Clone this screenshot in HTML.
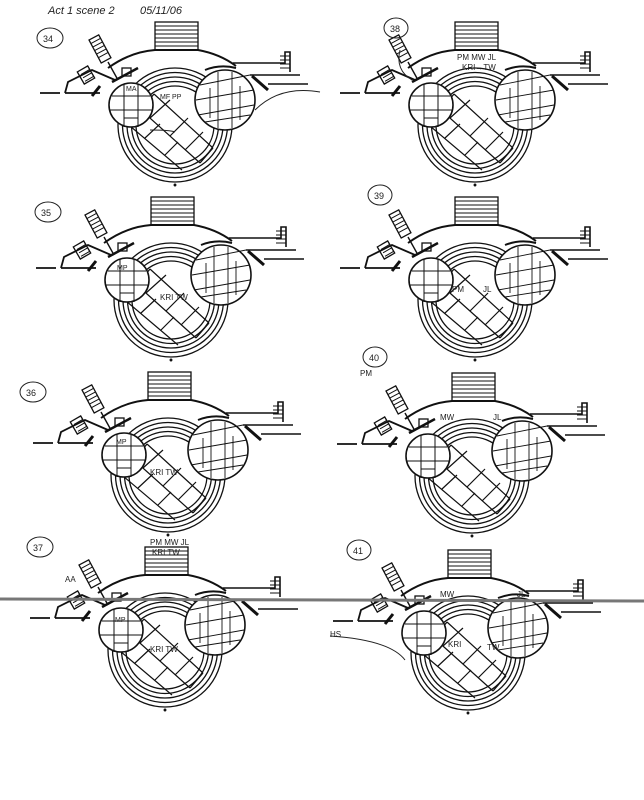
<!DOCTYPE html>
<html><head><meta charset="utf-8"><style>
html,body{margin:0;padding:0;background:#fff;width:644px;height:800px;overflow:hidden}
svg text{font-family:"Liberation Sans",sans-serif;fill:#222}
</style></head><body>
<svg width="644" height="800" viewBox="0 0 644 800" xmlns="http://www.w3.org/2000/svg">
<defs>
<g id="p" fill="none" stroke="#111" stroke-width="1.3">
  <rect x="155" y="22" width="43" height="28" fill="#fff"/>
  <path d="M155 26h43M155 30h43M155 34h43M155 38h43M155 42h43M155 46h43" stroke-width="1"/>
  <path d="M108 68 Q130 52 155 50 L198 50 Q220 54 236 66" stroke-width="2"/>
  <path d="M233 63 H285 V52 H290 V72" stroke-width="1.6"/>
  <path d="M280 56h10M280 60h10M280 64h10M280 68h10" stroke-width="1"/>
  <path d="M250 75 H300 M268 84 H308" stroke-width="1.6"/>
  <path d="M252 76 l16 14" stroke-width="3"/>
  <path d="M40 93 H60 M65 93 H100 M65 93 L68 82 L92 70 L115 80" stroke-width="1.8"/>
  <rect x="80" y="68" width="12" height="14" transform="rotate(-30 86 75)"/>
  <path d="M82 72h10M82 76h10M82 80h10" transform="rotate(-30 86 75)" stroke-width="1"/>
  <rect x="95" y="36" width="11" height="26" transform="rotate(-28 100 50)"/>
  <path d="M95 40h11M95 44h11M95 48h11M95 52h11M95 56h11" transform="rotate(-28 100 50)" stroke-width="1"/>
  <path d="M108 62 L118 80" stroke-width="1.4"/>
  <path d="M92 96 l8 -10" stroke-width="3"/>
  <rect x="122" y="68" width="9" height="8"/>
  <path d="M112 82 l26 -14" stroke-width="2.5"/>
  <circle cx="175" cy="125" r="57"/><circle cx="175" cy="125" r="52.5"/><circle cx="175" cy="125" r="48"/><circle cx="175" cy="125" r="43.5"/><circle cx="175" cy="125" r="39"/>
  <path d="M141 110 L200 163 M154 94 L213 148 M130 126 L182 170 M150 118 L170 100 M170 136 L188 118 M185 150 L203 132 M145 138 L160 124 M165 155 L178 142" fill="#fff" stroke-width="1.2"/>
  <path d="M141 110 L154 94 M200 163 L213 148"/>
  <circle cx="131" cy="105" r="22" fill="#fff" stroke-width="1.6"/>
  <path d="M124 84 V127 M138 84 V127 M112 96 H150 M110 110 H152 M124 118 H138" stroke-width="1"/>
  <circle cx="225" cy="100" r="30" fill="#fff" stroke-width="1.6"/>
  <path d="M200 85 L250 75 M196 100 L254 90 M198 115 L254 105 M205 122 L250 115 M218 72 V128 M232 72 V128 M210 88 V118 M240 86 V120" stroke-width="0.9"/>
  <path d="M205 70 Q220 64 236 68" stroke-width="2"/>
  <circle cx="175" cy="185" r="0.8" fill="#111"/>
</g>
</defs>
<text x="48" y="14" font-size="11" font-style="italic">Act 1 scene 2</text>
<text x="140" y="14" font-size="11" font-style="italic">05/11/06</text>
<use href="#p"/>
<use href="#p" transform="translate(-4,175)"/>
<use href="#p" transform="translate(-7,350)"/>
<use href="#p" transform="translate(-10,525)"/>
<use href="#p" transform="translate(300,0)"/>
<use href="#p" transform="translate(300,175)"/>
<use href="#p" transform="translate(297,351)"/>
<use href="#p" transform="translate(293,528)"/>
<line x1="0" y1="599" x2="644" y2="601" stroke="#777" stroke-width="3"/>
<g fill="none" stroke="#222" stroke-width="1">
<ellipse cx="50" cy="38" rx="13" ry="10"/><ellipse cx="48" cy="212" rx="13" ry="10"/>
<ellipse cx="33" cy="392" rx="13" ry="10"/><ellipse cx="40" cy="547" rx="13" ry="10"/>
<ellipse cx="396" cy="28" rx="12" ry="10"/><ellipse cx="380" cy="195" rx="12" ry="10"/>
<ellipse cx="375" cy="357" rx="12" ry="10"/><ellipse cx="359" cy="550" rx="12" ry="10"/>
<path d="M255 110 Q280 85 320 92"/><path d="M150 130 Q170 130 175 132"/>
<path d="M400 50 Q395 70 412 80"/><path d="M330 636 Q390 640 405 660"/>
</g>
<g font-size="9">
<text x="43" y="42">34</text><text x="41" y="216">35</text><text x="26" y="396">36</text><text x="33" y="551">37</text>
<text x="390" y="32">38</text><text x="374" y="199">39</text><text x="369" y="361">40</text><text x="353" y="554">41</text>
<text x="126" y="91" font-size="7">MA</text><text x="160" y="99" font-size="7">MF PP</text>
<text x="457" y="60" font-size="8">PM MW JL</text><text x="462" y="70" font-size="8">KRI→TW</text>
<text x="150" y="545" font-size="8">PM MW JL</text><text x="152" y="555" font-size="8">KRI TW</text>
<text x="440" y="597" font-size="8">MW</text><text x="517" y="597" font-size="8">JL</text>
<text x="330" y="637" font-size="8">HS</text><text x="448" y="647" font-size="8">KRI</text><text x="487" y="650" font-size="8">TW</text>
<text x="452" y="292" font-size="8">PM</text><text x="483" y="292" font-size="8">JL</text>
<text x="440" y="420" font-size="8">MW</text><text x="493" y="420" font-size="8">JL</text><text x="360" y="376" font-size="8">PM</text>
<text x="160" y="300" font-size="8">KRI TW</text><text x="150" y="475" font-size="8">KRI TW</text>
<text x="117" y="270" font-size="7">MP</text><text x="116" y="444" font-size="7">MP</text><text x="115" y="622" font-size="7">MP</text>
<text x="150" y="652" font-size="8">KRI TW</text><text x="65" y="582" font-size="8">AA</text>
</g>
</svg>
</body></html>
